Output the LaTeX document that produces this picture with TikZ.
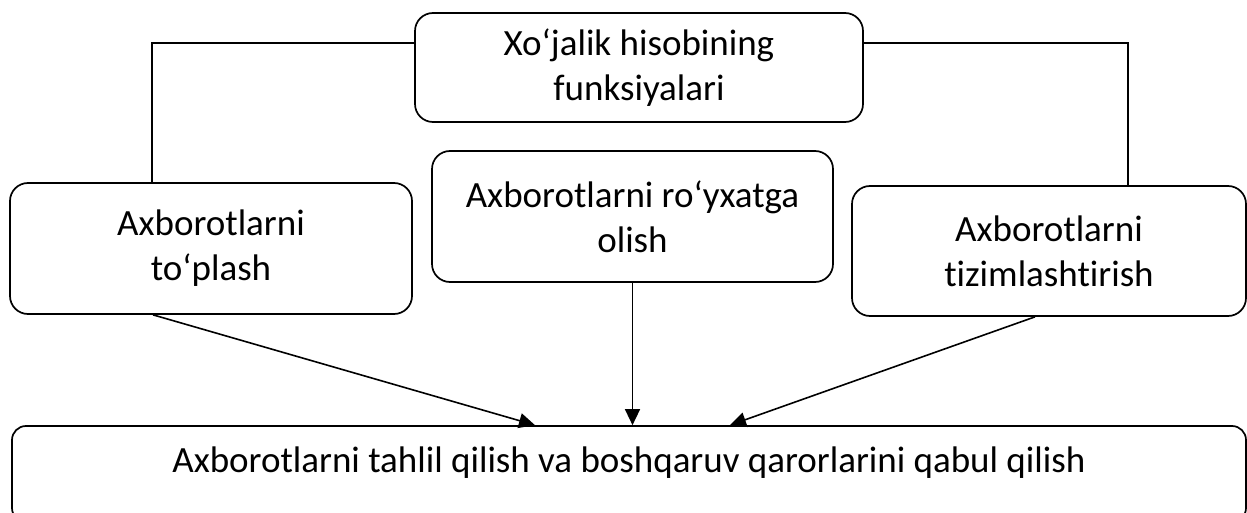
\documentclass[tikz,border=0pt]{standalone}
\usepackage{fontspec}
\setmainfont{Carlito}[Ligatures={NoCommon}]
\usetikzlibrary{arrows.meta}
\tikzset{
  box/.style={draw, line width=1.7pt, rounded corners=18pt, inner sep=0pt,
    align=center, font=\fontsize{37}{45}\selectfont},
  link/.style={line width=1.6pt},
  arr/.style={line width=1.6pt, -{Triangle[length=16pt,width=15pt]}}
}
\begin{document}
\begin{tikzpicture}[x=1pt,y=-1pt]
\useasboundingbox (0,0) rectangle (1247,513);
\node[box, minimum width=448pt, minimum height=109pt] (top) at (639,67.5)
  {Xo‘jalik hisobining\\funksiyalari};
\node[box, minimum width=402pt, minimum height=131pt] (left) at (211,248.5)
  {Axborotlarni\\to‘plash};
\node[box, minimum width=401pt, minimum height=131pt] (mid) at (632.5,216.5)
  {Axborotlarni ro‘yxatga\\olish};
\node[box, minimum width=394pt, minimum height=130pt] (right) at (1049,251)
  {Axborotlarni\\tizimlashtirish};
\node[box, rounded corners=14pt, minimum width=1234pt, minimum height=96pt,
  text height=26pt, text depth=30pt] (bottom) at (629,474)
  {Axborotlarni tahlil qilish va boshqaruv qarorlarini qabul qilish};
\draw[link] ([yshift=24.5pt]top.west) -| ([xshift=-59pt]left.north);
\draw[link] ([yshift=24.5pt]top.east) -| ([xshift=79pt]right.north);
\draw[arr] ([xshift=-58pt]left.south) -- ([xshift=-94pt]bottom.north);
\draw[arr] (mid.south) -- (mid.south |- bottom.north);
\draw[arr] ([xshift=-14pt]right.south) -- ([xshift=101pt]bottom.north);
\end{tikzpicture}
\end{document}
